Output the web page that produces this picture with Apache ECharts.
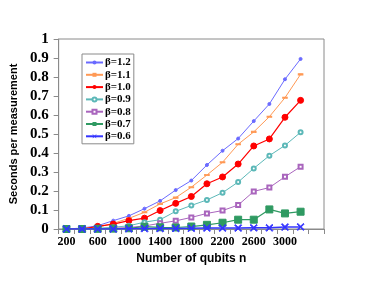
<!DOCTYPE html>
<html><head><meta charset="utf-8">
<script src="https://cdn.jsdelivr.net/npm/echarts@6/dist/echarts.min.js"></script>
<style>html,body{margin:0;padding:0;background:#fff}#c{width:380px;height:284px}</style>
</head><body><div id="c"></div>
<script>
const categories = ['200','400','600','800','1000','1200','1400','1600','1800','2000','2200','2400','2600','2800','3000','3200','3400'];
const yTicks = [0,0.1,0.2,0.3,0.4,0.5,0.6,0.7,0.8,0.9,1];
const seriesNames = ['β=1.2','β=1.1','β=1.0','β=0.9','β=0.8','β=0.7','β=0.6'];
const b12 = [0,0.005,0.017,0.044,0.069,0.107,0.148,0.205,0.255,0.337,0.412,0.476,0.568,0.658,0.788,0.895];
const b11 = [0,0.003,0.009,0.03,0.056,0.088,0.132,0.165,0.22,0.284,0.351,0.446,0.511,0.591,0.691,0.814];
const b10 = [0,0,0.014,0.026,0.044,0.057,0.097,0.135,0.171,0.238,0.274,0.342,0.437,0.474,0.588,0.677];
const b09 = [0,0,0.004,0.009,0.017,0.036,0.049,0.093,0.124,0.153,0.191,0.247,0.319,0.386,0.44,0.509];
const b08 = [0,0,0.002,0.004,0.008,0.016,0.03,0.043,0.061,0.082,0.097,0.126,0.198,0.218,0.275,0.328];
const b07 = [0,0,0.001,0.002,0.004,0.012,0.009,0.008,0.013,0.022,0.033,0.049,0.049,0.103,0.082,0.091];
const b06 = [0,0,0,0,0.001,0.002,0.002,0.003,0.004,0.005,0.005,0.005,0.006,0.006,0.01,0.011];
const seriesData = [b12,b11,b10,b09,b08,b07,b06];

const styles = [
  {color:'#6a6aff', symbol:'circle', size:3, lw:1},
  {color:'#ff9955', symbol:'rect', size:[4,1.5], lw:1},
  {color:'#ff0000', symbol:'circle', size:6, lw:1.2},
  {color:'#5cb8b8', symbol:'emptyCircle', size:4, lw:1},
  {color:'#a965bd', symbol:'emptyRect', size:4, lw:1},
  {color:'#2f9a62', symbol:'rect', size:7, lw:1.2},
  {color:'#3434ff', symbol:'path://M0,1L1,0L5,4L9,0L10,1L6,5L10,9L9,10L5,6L1,10L0,9L4,5Z', size:7, lw:1.5}
];

const chart = echarts.init(document.getElementById('c'), null, {renderer:'canvas'});
chart.setOption({
  animation:false,
  backgroundColor:'#fff',
  grid:{left:58, right:56, top:39, bottom:55, show:true, borderColor:'#8a8a8a', borderWidth:1, backgroundColor:'transparent'},
  legend:{
    orient:'vertical', left:82, top:54,
    data:seriesNames,
    itemWidth:17, itemHeight:5, itemGap:1.3,
    padding:[3,3,2,3],
    borderColor:'#8a8a8a', borderWidth:1, borderRadius:0,
    textStyle:{fontFamily:'Liberation Serif', fontWeight:'bold', fontSize:11, color:'#000', padding:[0,0,0,-3]}
  },
  xAxis:{
    type:'category', data:categories, boundaryGap:true,
    name:'Number of qubits n', nameLocation:'middle', nameGap:23,
    nameTextStyle:{fontFamily:'Liberation Sans', fontWeight:'bold', fontSize:12, color:'#000'},
    axisLine:{lineStyle:{color:'#8a8a8a', width:1}},
    axisTick:{show:true, interval:0, length:5, lineStyle:{color:'#8a8a8a'}},
    axisLabel:{interval:(i)=> i%2===0 && i<16, margin:7, fontFamily:'Liberation Serif', fontWeight:'bold', fontSize:12, color:'#000'},
    splitLine:{show:false}
  },
  yAxis:{
    type:'value', min:0, max:1, interval:0.1,
    name:'Seconds per measurement', nameLocation:'middle', nameGap:38,
    nameTextStyle:{fontFamily:'Liberation Sans', fontWeight:'bold', fontSize:11, color:'#000'},
    axisLine:{show:true, lineStyle:{color:'#8a8a8a', width:1}},
    axisTick:{show:true, length:5, lineStyle:{color:'#8a8a8a'}},
    axisLabel:{margin:10, fontFamily:'Liberation Serif', fontWeight:'bold', fontSize:15, color:'#000',
      formatter:(v)=>{const t=yTicks.find(k=>Math.abs(k-v)<1e-9); return t===undefined?'':String(t);}},
    splitLine:{show:false}
  },
  series: seriesNames.map((n,i)=>({
    name:n, type:'line', data:seriesData[i],
    symbol:styles[i].symbol, symbolSize:styles[i].size, showSymbol:true,
    itemStyle:{color:styles[i].color, borderColor:styles[i].color},
    lineStyle:{color:styles[i].color, width:styles[i].lw},
    z: 2 + i
  }))
});
</script></body></html>
